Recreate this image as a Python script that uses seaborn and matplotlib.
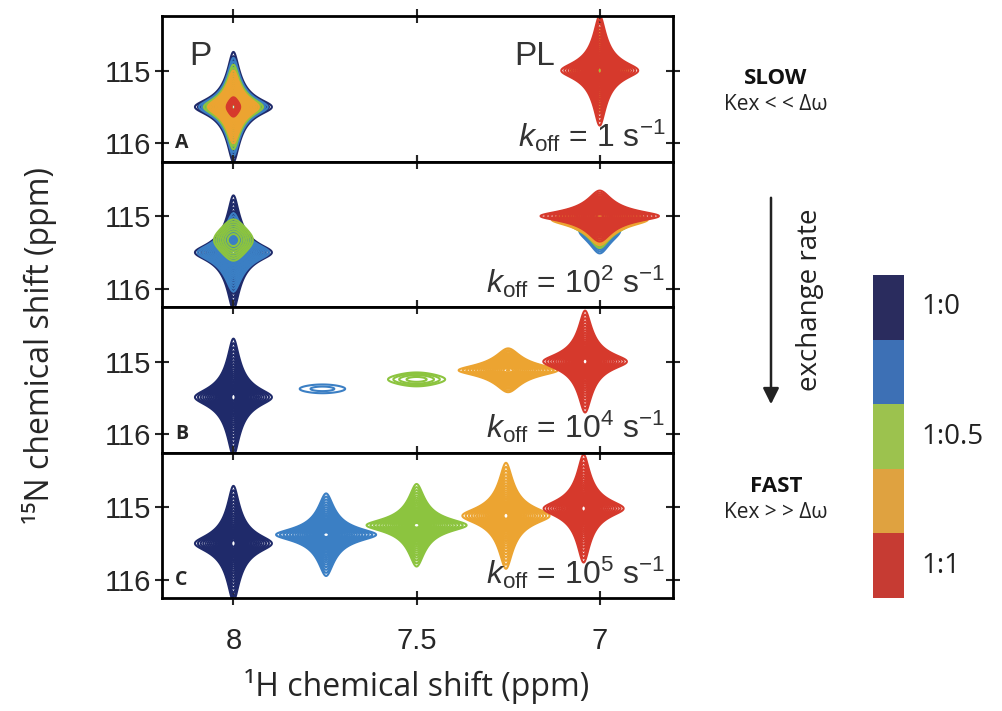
import numpy as np
import matplotlib
matplotlib.use('Agg')
import matplotlib.pyplot as plt
from matplotlib.colors import ListedColormap
import seaborn as sns

# %%
# titration colours: 1:0 (free protein) ... 1:1 (bound)
peak_colours = ['#1f2a6a', '#3b7fc4', '#8cc43f', '#eca431', '#d6392c']
bar_colours = ['#2a2c5e', '#3d70b5', '#9cc24e', '#dfa240', '#c63b33']
ratio_labels = ['1:0', '', '1:0.5', '', '1:1']

koff_labels = [r'$k_{\mathrm{off}}$ = 1 s$^{-1}$',
               r'$k_{\mathrm{off}}$ = 10$^{2}$ s$^{-1}$',
               r'$k_{\mathrm{off}}$ = 10$^{4}$ s$^{-1}$',
               r'$k_{\mathrm{off}}$ = 10$^{5}$ s$^{-1}$']
panel_letters = ['A', '', 'B', 'C']

# peaks for each panel: 1H shift, 15N shift, height, 1H width, 15N width, colour
slow_h = [8.0, 8.0, 8.0, 8.0, 8.0, 7.0, 7.0, 7.0, 7.0]
slow_n = [115.5, 115.5, 115.5, 115.5, 115.5, 115.0, 115.0, 115.0, 115.0]
slow_amp = [1.0, 0.8, 0.6, 0.45, 0.05, 0.2, 0.4, 0.6, 1.0]
slow_wh = [0.015] * 9
slow_wn = [0.108] * 9
slow_col = [0, 1, 2, 3, 4, 1, 2, 3, 4]

k2_h = [8.0, 8.0, 8.0, 7.0, 7.0, 7.0, 7.0]
k2_n = [115.5, 115.5, 115.33, 115.2, 115.1, 115.05, 115.0]
k2_amp = [1.0, 0.5, 0.06, 0.12, 0.25, 0.4, 0.6]
k2_wh = [0.015, 0.02, 0.0375, 0.025, 0.025, 0.03, 0.03]
k2_wn = [0.112, 0.11, 0.2, 0.14, 0.1, 0.08, 0.065]
k2_col = [0, 1, 2, 1, 2, 3, 4]

k4_h = [8.0, 7.757, 7.5, 7.25, 7.04]
k4_n = [115.49, 115.375, 115.245, 115.12, 115.0]
k4_amp = [1.0, 0.025, 0.035, 0.4, 1.0]
k4_wh = [0.015, 0.124, 0.09, 0.031, 0.0163]
k4_wn = [0.115, 0.12, 0.11, 0.069, 0.1]
k4_col = [0, 1, 2, 3, 4]

k5_h = [8.0, 7.747, 7.5, 7.256, 7.044]
k5_n = [115.5, 115.38, 115.25, 115.12, 115.02]
k5_amp = [1.0, 1.0, 1.0, 1.0, 1.0]
k5_wh = [0.015, 0.0195, 0.0195, 0.017, 0.0156]
k5_wn = [0.113, 0.081, 0.081, 0.104, 0.106]
k5_col = [0, 1, 2, 3, 4]

panels = [(slow_h, slow_n, slow_amp, slow_wh, slow_wn, slow_col),
          (k2_h, k2_n, k2_amp, k2_wh, k2_wn, k2_col),
          (k4_h, k4_n, k4_amp, k4_wh, k4_wn, k4_col),
          (k5_h, k5_n, k5_amp, k5_wh, k5_wn, k5_col)]

# %%
sns.set_theme(style='ticks')
plt.rcParams['font.family'] = ['Liberation Sans', 'DejaVu Sans']
plt.rcParams['mathtext.fontset'] = 'custom'
plt.rcParams['mathtext.rm'] = 'Liberation Sans'
plt.rcParams['mathtext.it'] = 'Liberation Sans:italic'
plt.rcParams['mathtext.bf'] = 'Liberation Sans:bold'

W, H = 1002, 711
fig = plt.figure(figsize=(W / 100, H / 100), dpi=100)

x_lim = (8.195, 6.80)
y_lim = (116.25, 114.25)
hh = np.linspace(x_lim[1], x_lim[0], 1400)
nn = np.linspace(y_lim[1], y_lim[0], 700)
HH, NN = np.meshgrid(hh, nn)

left, right, top, bottom = 162, 673, 16, 598
ph = (bottom - top) / 4
axes = []
for i, (ph_h, ph_n, amp, wh, wn, col) in enumerate(panels):
    ax = fig.add_axes([left / W, 1 - (top + (i + 1) * ph) / H, (right - left) / W, ph / H])
    axes.append(ax)
    order = np.argsort(col, kind='stable')
    for j in order:
        z = amp[j] / ((1 + ((HH - ph_h[j]) / wh[j]) ** 2) * (1 + ((NN - ph_n[j]) / wn[j]) ** 2))
        lv = 0.02 * 1.17 ** np.arange(40)
        lv = lv[lv < amp[j]]
        ax.contour(HH, NN, z, levels=lv, colors=peak_colours[col[j]], linewidths=1.5)
    ax.set_xlim(x_lim)
    ax.set_ylim(y_lim)
    ax.set_xticks([8, 7.5, 7])
    ax.set_yticks([115, 116])
    ax.tick_params(axis='both', direction='inout', length=10, width=1.5,
                   top=True, right=True, labelsize=21)
    ax.tick_params(axis='y', pad=3)
    ax.tick_params(axis='x', pad=16)
    if i < 3:
        ax.tick_params(axis='x', labelbottom=False)
    else:
        ax.set_xticklabels(['8', '7.5', '7'])
    for s in ax.spines.values():
        s.set_linewidth(2)
        s.set_color('black')
    ax.text(0.985, 0.1, koff_labels[i], transform=ax.transAxes, ha='right',
            va='baseline', fontsize=23, color='#333333')
    if panel_letters[i]:
        ax.text(0.025, 0.09, panel_letters[i], transform=ax.transAxes, ha='left',
                va='baseline', fontsize=14, fontweight='bold',
                family=['Open Sans', 'DejaVu Sans'])

axes[0].text(0.076, 0.72, 'P', transform=axes[0].transAxes, ha='center',
             va='center', fontsize=24, color='#333333')
axes[0].text(0.73, 0.72, 'PL', transform=axes[0].transAxes, ha='center',
             va='center', fontsize=24, color='#333333')

lab_font = ['Open Sans', 'DejaVu Sans']
fig.text(417 / W, 1 - 687 / H, '¹H chemical shift (ppm)', ha='center', va='center',
         fontsize=23, family=lab_font)
fig.text(40 / W, 1 - 345 / H, '¹⁵N chemical shift (ppm)', ha='center', va='center',
         rotation=90, fontsize=23, family=lab_font)

# %%
# colour key for the titration points
cax = fig.add_axes([873 / W, 1 - 598 / H, 31 / W, 323 / H])
sns.heatmap(np.arange(5).reshape(-1, 1), cmap=ListedColormap(bar_colours), cbar=False,
            ax=cax, xticklabels=False, yticklabels=False)
for i, lab in enumerate(ratio_labels):
    if lab:
        cax.text(1.55, i + 0.5, lab, ha='left', va='center', fontsize=20,
                 family=lab_font, color='#222222')

fig.text(776 / W, 1 - 78 / H, 'SLOW', ha='center', va='center', fontsize=16,
         fontweight='bold', family=lab_font, color='#111111')
fig.text(776 / W, 1 - 105 / H, 'Kex < < Δω', ha='center', va='center', fontsize=15,
         family=lab_font, color='#222222')
fig.text(776 / W, 1 - 487 / H, 'FAST', ha='center', va='center', fontsize=16,
         fontweight='bold', family=lab_font, color='#111111')
fig.text(776 / W, 1 - 512 / H, 'Kex > > Δω', ha='center', va='center', fontsize=15,
         family=lab_font, color='#222222')

fig.text(810 / W, 1 - 300 / H, 'exchange rate', ha='center', va='center', rotation=90,
         fontsize=20, family=lab_font, color='#222222')
plt.annotate('', xy=(771 / W, 1 - 407 / H), xytext=(771 / W, 1 - 195 / H),
             xycoords='figure fraction',
             arrowprops=dict(arrowstyle='-|>', lw=1.8, color='#222222', mutation_scale=24))

fig.savefig('out.png', dpi=100)
